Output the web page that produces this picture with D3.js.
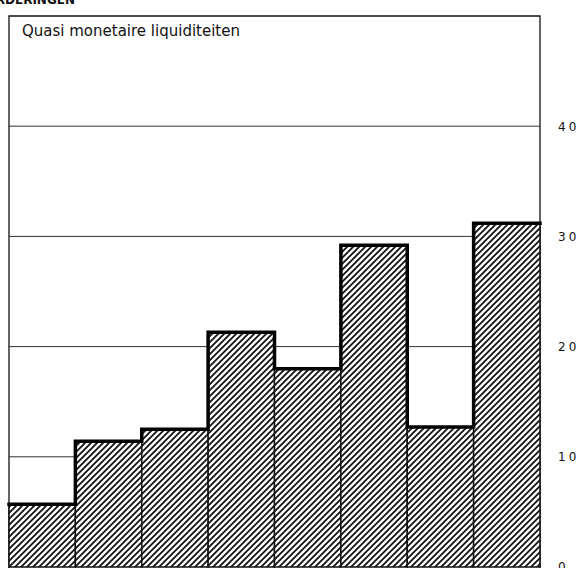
<!DOCTYPE html>
<meta charset="utf-8">
<style>
  body { margin: 0; background: #fff; }
  svg { display: block; }
  .tick text { font-family: "DejaVu Sans", sans-serif; font-size: 12px; letter-spacing: 3px; fill: #111; }
</style>
<script src="https://d3js.org/d3.v7.min.js"></script>
<div id="chart"></div>
<script>
// data
var periods = ["p1", "p2", "p3", "p4", "p5", "p6", "p7", "p8"];
var values = [5.7, 11.4, 12.5, 21.3, 18.0, 29.2, 12.7, 31.2];
var tickValues = [0, 10, 20, 30, 40];

var W = 586, H = 568;
var plotLeft = 9, plotRight = 540, plotTop = 16, plotBottom = 567;

var svg = d3.select("#chart").append("svg")
    .attr("width", W)
    .attr("height", H);

// hatch fill
var pat = svg.append("defs").append("pattern")
    .attr("id", "hatch")
    .attr("patternUnits", "userSpaceOnUse")
    .attr("width", 6)
    .attr("height", 6);
pat.append("rect").attr("width", 6).attr("height", 6).attr("fill", "#fff");
pat.append("path")
    .attr("d", "M0,6 L6,0 M-1.5,1.5 L1.5,-1.5 M4.5,7.5 L7.5,4.5")
    .attr("stroke", "#111")
    .attr("stroke-width", 1.8);

var x = d3.scaleBand()
    .domain(periods)
    .range([plotLeft, plotRight])
    .padding(0);

var y = d3.scaleLinear()
    .domain([0, 50])
    .range([plotBottom, plotTop]);

// gridlines
svg.append("g")
    .selectAll("line")
    .data(tickValues.filter(function(d) { return d > 0; }))
    .enter()
    .append("line")
      .attr("x1", plotLeft)
      .attr("x2", plotRight)
      .attr("y1", function(d) { return y(d); })
      .attr("y2", function(d) { return y(d); })
      .attr("stroke", "#333")
      .attr("stroke-width", 1);

// labels on the right
var axis = svg.append("g")
    .attr("transform", "translate(558,0)")
    .call(d3.axisRight(y).tickValues(tickValues).tickSize(0).tickPadding(0).tickFormat(d3.format("d")));
axis.select(".domain").remove();

// frame
svg.append("path")
    .attr("d", "M" + plotLeft + "," + H + "V" + plotTop + "H" + plotRight + "V" + H)
    .attr("fill", "none")
    .attr("stroke", "#111")
    .attr("stroke-width", 1.3);

// bars
svg.selectAll("rect.bar")
  .data(values)
  .enter()
  .append("rect")
    .attr("class", "bar")
    .attr("x", function(d, i) { return x(periods[i]); })
    .attr("y", function(d) { return y(d); })
    .attr("width", x.bandwidth())
    .attr("height", function(d) { return y(0) - y(d); })
    .attr("fill", "url(#hatch)")
    .attr("stroke", "#111")
    .attr("stroke-width", 1.5);

// thick stepped outline along the bar tops
var pts = [];
values.forEach(function(v, i) {
  pts.push([x(periods[i]), y(v)]);
  pts.push([x(periods[i]) + x.bandwidth(), y(v)]);
});
svg.append("path")
    .attr("d", d3.line()(pts))
    .attr("fill", "none")
    .attr("stroke", "#000")
    .attr("stroke-width", 3.5)
    .attr("stroke-linejoin", "miter")
    .attr("stroke-linecap", "square");

// title inside the frame
svg.append("text")
    .attr("x", 22)
    .attr("y", 36)
    .style("font-family", "'DejaVu Sans', sans-serif")
    .style("font-size", "15px")
    .attr("fill", "#111")
    .text("Quasi monetaire liquiditeiten");

// clipped heading at the very top
svg.append("text")
    .attr("x", 75)
    .attr("y", 4)
    .attr("text-anchor", "end")
    .style("font-family", "'DejaVu Sans', sans-serif")
    .style("font-size", "12px")
    .style("font-weight", "bold")
    .attr("fill", "#111")
    .text("VORDERINGEN");
</script>
